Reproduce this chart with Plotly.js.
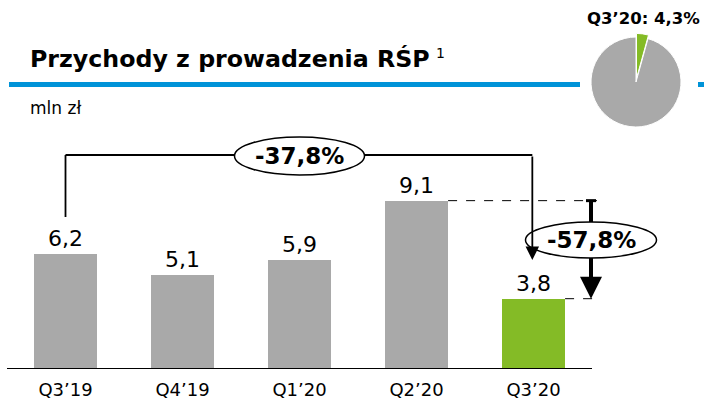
<!DOCTYPE html>
<html>
<head>
<meta charset="utf-8">
<script src="https://cdn.plot.ly/plotly-3.0.1.min.js"></script>
<style>
  html, body { margin: 0; padding: 0; background: #fff; }
  #chart { width: 704px; height: 400px; }
</style>
</head>
<body>
<div id="chart"></div>
<script>
// ---- data ----
const categories = ['Q3’19', 'Q4’19', 'Q1’20', 'Q2’20', 'Q3’20'];
const values = [6.2, 5.1, 5.9, 9.1, 3.8];
const yoyChangeLabel = '-37,8%';
const qoqChangeLabel = '-57,8%';
const pieLabels = ['Q3’20', 'Pozostałe'];
const pieValues = [4.3, 95.7];
const pieTitle = 'Q3’20: 4,3%';
const titleText = 'Przychody z prowadzenia RŚP';
const unitText = 'mln zł';

// ---- styles ----
const GRAY = '#a9a9a9';
const GREEN = '#84bb26';
const BLUE = '#0093d8';
const FONT = 'DejaVu Sans';
const barColors = values.map((v, i) => i === values.length - 1 ? GREEN : GRAY);

const W = 704, H = 400;
const mL = 7, mR = 0, mT = 0, mB = 31;
const pw = W - mL - mR, ph = H - mT - mB;
const pxPerCat = 117;
const pxPerUnit = 18.5;
const xMax = -0.5 + pw / pxPerCat;
const yMax = ph / pxPerUnit;
const px2y = py => (H - mB - py) / pxPerUnit;
const px2x = px => (px - mL) / pxPerCat - 0.5;
const px2paperX = px => (px - mL) / pw;
const px2paperY = py => (H - mB - py) / ph;

const iFirst = 0, iPrev = values.length - 2, iLast = values.length - 1;
const bw = 0.54;
const bracketY = px2y(155);
const arrowX = px2x(591);
const dashEnd = px2x(597);

const bars = {
  type: 'bar',
  x: categories,
  y: values,
  width: bw,
  marker: { color: barColors },
  texttemplate: '%{y:.1f}',
  textposition: 'outside',
  constraintext: 'none',
  cliponaxis: false,
  textfont: { family: FONT, size: 22, color: '#000' },
  hoverinfo: 'none',
  showlegend: false
};

const pieR = 45, pull = 0.08;
const pieHalf = pieR * (1 + pull);
const pieCx = 636, pieCy = 82;
const pie = {
  type: 'pie',
  labels: pieLabels,
  values: pieValues,
  marker: { colors: [GREEN, GRAY], line: { color: '#fff', width: 1 } },
  pull: [pull, 0],
  sort: false,
  direction: 'clockwise',
  rotation: 0,
  textinfo: 'none',
  hoverinfo: 'none',
  showlegend: false,
  domain: {
    x: [px2paperX(pieCx - pieHalf), px2paperX(pieCx + pieHalf)],
    y: [px2paperY(pieCy + pieHalf), px2paperY(pieCy - pieHalf)]
  }
};

const shapes = [
  // baseline
  { type: 'line', xref: 'x', yref: 'y', x0: -0.5, x1: values.length - 0.5, y0: 0, y1: 0,
    line: { color: '#000', width: 2 } },
  // blue title rule
  { type: 'line', xref: 'paper', yref: 'paper', x0: px2paperX(9), x1: px2paperX(580),
    y0: px2paperY(84.5), y1: px2paperY(84.5), line: { color: BLUE, width: 5 } },
  { type: 'line', xref: 'paper', yref: 'paper', x0: px2paperX(698), x1: 1,
    y0: px2paperY(84.5), y1: px2paperY(84.5), line: { color: BLUE, width: 5 } },
  // bracket
  { type: 'line', xref: 'x', yref: 'y', x0: iFirst, x1: iFirst, y0: px2y(217), y1: bracketY,
    line: { color: '#000', width: 1.8 } },
  { type: 'line', xref: 'x', yref: 'y', x0: iFirst, x1: iLast - 0.01, y0: bracketY, y1: bracketY,
    line: { color: '#000', width: 1.8 } },
  // dashed guides
  { type: 'line', xref: 'x', yref: 'y', x0: iPrev + bw / 2, x1: dashEnd, y0: values[iPrev], y1: values[iPrev],
    line: { color: '#000', width: 1, dash: 'dash' } },
  { type: 'line', xref: 'x', yref: 'y', x0: iLast + bw / 2, x1: dashEnd, y0: values[iLast], y1: values[iLast],
    line: { color: '#000', width: 1, dash: 'dash' } },
  // thick arrow shaft (top part) and cap
  { type: 'line', xref: 'x', yref: 'y', x0: arrowX, x1: arrowX, y0: values[iPrev], y1: px2y(265),
    line: { color: '#000', width: 4 } },
  { type: 'line', xref: 'x', yref: 'y', x0: px2x(586), x1: px2x(596), y0: values[iPrev], y1: values[iPrev],
    line: { color: '#000', width: 3 } },
  // ellipses
  { type: 'circle', xref: 'x', yref: 'y', xsizemode: 'pixel', ysizemode: 'pixel',
    xanchor: (iFirst + iLast) / 2, yanchor: px2y(156), x0: -65, x1: 65, y0: -19, y1: 19,
    fillcolor: '#fff', line: { color: '#000', width: 1.5 } },
  { type: 'circle', xref: 'x', yref: 'y', xsizemode: 'pixel', ysizemode: 'pixel',
    xanchor: arrowX, yanchor: px2y(240), x0: -65.5, x1: 65.5, y0: -18, y1: 18,
    fillcolor: '#fff', line: { color: '#000', width: 1.5 } }
];

const annotations = [
  { xref: 'paper', yref: 'paper', x: px2paperX(28), y: px2paperY(59), xanchor: 'left', yanchor: 'middle',
    text: '<b>' + titleText + '</b>', showarrow: false, font: { family: FONT, size: 23.7, color: '#000' } },
  { xref: 'paper', yref: 'paper', x: px2paperX(434), y: px2paperY(53), xanchor: 'left', yanchor: 'middle',
    text: '1', showarrow: false, font: { family: FONT, size: 14, color: '#000' } },
  { xref: 'paper', yref: 'paper', x: px2paperX(28), y: px2paperY(108), xanchor: 'left', yanchor: 'middle',
    text: unitText, showarrow: false, font: { family: FONT, size: 17, color: '#000' } },
  { xref: 'paper', yref: 'paper', x: px2paperX(702), y: px2paperY(18), xanchor: 'right', yanchor: 'middle',
    text: '<b>' + pieTitle + '</b>', showarrow: false, font: { family: FONT, size: 16.5, color: '#000' } },
  // ellipse labels
  { xref: 'x', yref: 'y', x: (iFirst + iLast) / 2, y: px2y(156), text: '<b>' + yoyChangeLabel + '</b>',
    showarrow: false, font: { family: FONT, size: 23, color: '#000' } },
  { xref: 'x', yref: 'y', x: arrowX, y: px2y(240), text: '<b>' + qoqChangeLabel + '</b>',
    showarrow: false, font: { family: FONT, size: 23, color: '#000' } },
  // thin bracket arrow
  { xref: 'x', yref: 'y', axref: 'x', ayref: 'y', x: iLast - 0.01, y: px2y(260), ax: iLast - 0.01, ay: bracketY,
    text: '', showarrow: true, arrowhead: 2, arrowwidth: 1.8, arrowsize: 1.5, arrowcolor: '#000' },
  // thick arrow head
  { xref: 'x', yref: 'y', axref: 'x', ayref: 'y', x: arrowX, y: values[iLast], ax: arrowX, ay: px2y(258),
    text: '', showarrow: true, arrowhead: 2, arrowwidth: 4, arrowsize: 1.1, arrowcolor: '#000' }
];

const layout = {
  width: W, height: H,
  margin: { l: mL, r: mR, t: mT, b: mB, pad: 0 },
  paper_bgcolor: '#fff', plot_bgcolor: '#fff',
  separators: ', ',
  showlegend: false,
  bargap: 0,
  xaxis: {
    type: 'category', range: [-0.5, xMax], domain: [0, 1],
    showgrid: false, zeroline: false, showline: false,
    ticks: '', ticklabelstandoff: 8,
    tickfont: { family: FONT, size: 18, color: '#000' },
    fixedrange: true
  },
  yaxis: {
    range: [0, yMax], domain: [0, 1], visible: false, fixedrange: true
  },
  shapes: shapes,
  annotations: annotations
};

Plotly.newPlot('chart', [bars, pie], layout, { displayModeBar: false, staticPlot: true });
</script>
</body>
</html>
